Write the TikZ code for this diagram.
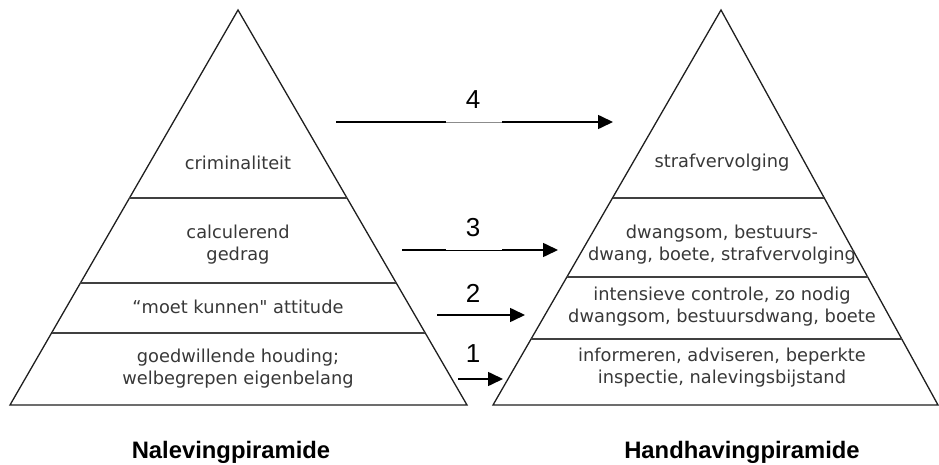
\documentclass[tikz,border=0pt]{standalone}
\usepackage{fontspec}
\setmainfont{DejaVu Sans}
\newfontfamily\lblfont{DejaVu Sans}[Ligatures=TeXOff]
\newfontfamily\arialfont{Liberation Sans}
\usetikzlibrary{arrows.meta,calc}
\begin{document}
\begin{tikzpicture}[x=1pt,y=-1pt,
  pyr/.style={draw=black!88, line width=1.3pt, line join=miter},
  lvl/.style={draw=black!75, line width=1.3pt},
  lbl/.style={font=\lblfont\fontsize{17.8}{22}\selectfont, text=black!78, align=center, inner sep=0pt},
  num/.style={font=\arialfont\fontsize{26}{26}\selectfont, inner sep=0pt},
  ttl/.style={font=\arialfont\bfseries\fontsize{23.8}{24}\selectfont, inner sep=0pt},
  seg/.style={line width=1.6pt},
  thinseg/.style={line width=0.8pt},
  arr/.style={line width=1.6pt, -{Triangle[length=15pt,width=14pt]}}]
\useasboundingbox (0,0) rectangle (939,465);
% left pyramid
\coordinate (LA) at (238,10);
\coordinate (LL) at (10,405);
\coordinate (LR) at (467,405);
\draw[pyr] (LA) -- (LL) -- (LR) -- cycle;
\draw[lvl] ($(LA)!0.4759!(LL)$) coordinate (l1a) -- ($(LA)!0.4759!(LR)$) coordinate (l1b);
\draw[lvl] ($(LA)!0.6911!(LL)$) coordinate (l2a) -- ($(LA)!0.6911!(LR)$) coordinate (l2b);
\draw[lvl] ($(LA)!0.8177!(LL)$) coordinate (l3a) -- ($(LA)!0.8177!(LR)$) coordinate (l3b);
% right pyramid
\coordinate (RA) at (721,10);
\coordinate (RL) at (493,405);
\coordinate (RR) at (938,405);
\draw[pyr] (RA) -- (RL) -- (RR) -- cycle;
\draw[lvl] ($(RA)!0.4759!(RL)$) coordinate (r1a) -- ($(RA)!0.4759!(RR)$) coordinate (r1b);
\draw[lvl] ($(RA)!0.6759!(RL)$) coordinate (r2a) -- ($(RA)!0.6759!(RR)$) coordinate (r2b);
\draw[lvl] ($(RA)!0.8329!(RL)$) coordinate (r3a) -- ($(RA)!0.8329!(RR)$) coordinate (r3b);
% texts left
\node[lbl] (t1) at (238,163) {criminaliteit};
\node[lbl] (t2) at (238,245) {calculerend\\gedrag};
\node[lbl] (t3) at (238,307) {“moet kunnen" attitude};
\node[lbl] (t4) at (238,369) {goedwillende houding;\\welbegrepen eigenbelang};
% texts right
\node[lbl] (s1) at (722,163) {strafvervolging};
\node[lbl] (s2) at (722,245) {dwangsom, bestuurs-\\dwang, boete, strafvervolging};
\node[lbl] (s3) at (722,307) {intensieve controle, zo nodig\\dwangsom, bestuursdwang, boete};
\node[lbl] (s4) at (722,368) {informeren, adviseren, beperkte\\inspectie, nalevingsbijstand};
% arrows
\coordinate (a4s) at (336,122); \coordinate (a4m) at (446,122); \coordinate (a4n) at (502,122); \coordinate (a4e) at (613,122);
\coordinate (a3s) at (402,250); \coordinate (a3m) at (446,250); \coordinate (a3n) at (502,250); \coordinate (a3e) at (558,250);
\coordinate (a2s) at (437,315); \coordinate (a2e) at (525,315);
\coordinate (a1s) at (458,379); \coordinate (a1e) at (503,379);
\draw[seg] (a4s) -- (a4m);
\draw[thinseg, draw=black!45] (a4m) -- (a4n);
\draw[arr] (a4n) -- (a4e);
\draw[seg] (a3s) -- (a3m);
\draw[thinseg] (a3m) -- (a3n);
\draw[arr] (a3n) -- (a3e);
\draw[arr] (a2s) -- (a2e);
\draw[arr] (a1s) -- (a1e);
\node[num] (n4) at (473,100) {4};
\node[num] (n3) at (473,228) {3};
\node[num] (n2) at (473,293) {2};
\node[num] (n1) at (473,354) {1};
% titles
\node[ttl] (T1) at (231,452) {Nalevingpiramide};
\node[ttl] (T2) at (742,452) {Handhavingpiramide};
\end{tikzpicture}
\end{document}
